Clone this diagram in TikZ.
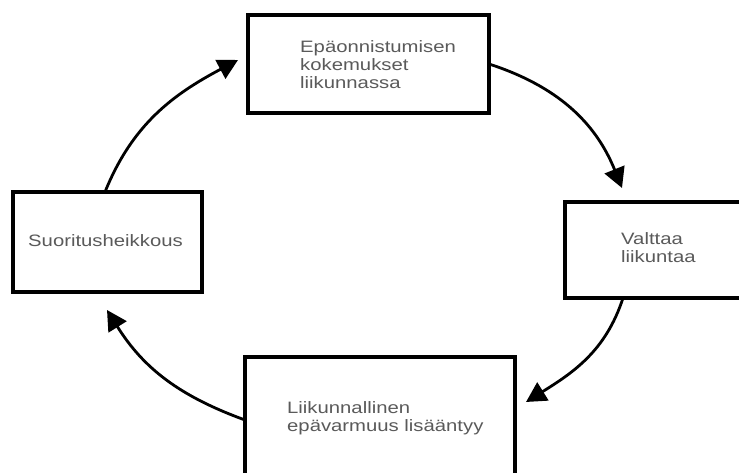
\documentclass[tikz,border=0pt]{standalone}
\usepackage{fontspec}
\setmainfont[FakeStretch=1.23]{Liberation Sans}
\usetikzlibrary{arrows.meta}
\definecolor{txtgray}{HTML}{5A5A5A}
\begin{document}
\begin{tikzpicture}[x=1pt,y=1pt,
  box/.style={draw=black,line width=3.8pt,fill=white,inner sep=0pt,outer sep=0pt},
  lbl/.style={text=txtgray,font=\fontsize{16.5}{18}\selectfont,align=left,inner sep=0pt,anchor=base west},
  conn/.style={line width=2.8pt,-{Triangle[length=20pt,width=21pt]}}]
\useasboundingbox (0,0) rectangle (739,473);
\begin{scope}
\clip (0,0) rectangle (739,473);
\node[box,minimum width=241pt,minimum height=98pt] (T) at (368.5,409) {};
\node[box,minimum width=185pt,minimum height=96pt] (R) at (657.5,223) {};
\node[box,minimum width=189pt,minimum height=100pt] (L) at (107.5,231) {};
\node[box,minimum width=270pt,minimum height=126pt] (B) at (380,53) {};
\end{scope}
\node[lbl] (tT) at (300,384) {Epäonnistumisen\\kokemukset\\liikunnassa};
\node[lbl] (tR) at (621,210) {Valttaa\\liikuntaa};
\node[lbl] (tL) at (28,226) {Suoritusheikkous};
\node[lbl] (tB) at (287,41) {Liikunnallinen\\epävarmuus lisääntyy};
\coordinate (e1) at (238,413);
\coordinate (e2) at (622,285);
\coordinate (e3) at (526,71);
\coordinate (e4) at (107,163);
\draw[conn] ([xshift=-2.5pt]L.north) to[out=68,in=208] (e1);
\draw[conn] (T.east) to[out=-18,in=112] (e2);
\draw[conn] ([xshift=-34.5pt]R.south) to[out=-108,in=32] (e3);
\draw[conn] (B.west) to[out=160,in=-58] (e4);
\end{tikzpicture}
\end{document}
